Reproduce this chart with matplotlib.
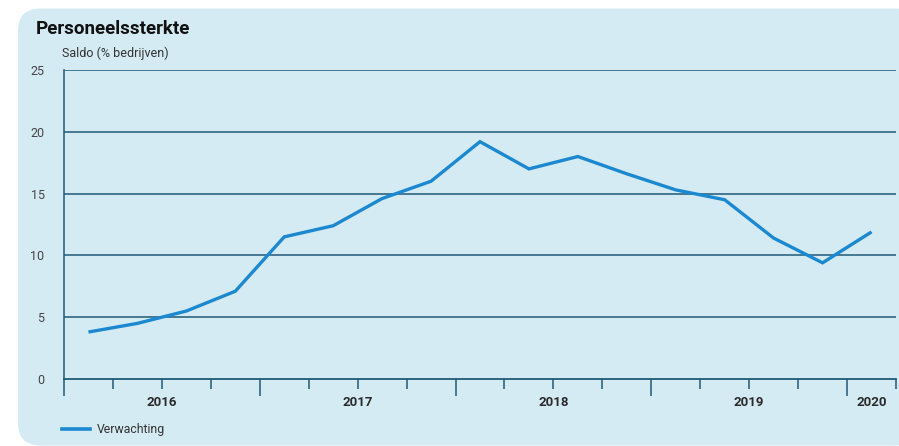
import matplotlib
matplotlib.use('Agg')
import matplotlib.pyplot as plt
import matplotlib.transforms as mtransforms
from matplotlib.patches import FancyBboxPatch
import numpy as np

plt.rcParams['font.family'] = ['Roboto', 'DejaVu Sans']

# Quarterly data, 2016 Q1 .. 2020 Q1
quarters = ['2016Q1', '2016Q2', '2016Q3', '2016Q4',
            '2017Q1', '2017Q2', '2017Q3', '2017Q4',
            '2018Q1', '2018Q2', '2018Q3', '2018Q4',
            '2019Q1', '2019Q2', '2019Q3', '2019Q4',
            '2020Q1']
verwachting = [3.8, 4.5, 5.5, 7.1,
               11.5, 12.4, 14.6, 16.0,
               19.2, 17.0, 18.0, 16.6,
               15.3, 14.5, 11.4, 9.4,
               11.9]
years = ['2016', '2017', '2018', '2019', '2020']
yticks = [0, 5, 10, 15, 20, 25]

BG = '#d5ebf4'
GRID = '#1f5a78'
LINE = '#1b88cf'

fig = plt.figure(figsize=(8.99, 4.46), dpi=100)
fig.patch.set_facecolor('white')

# rounded background panel (behind everything)
panel = FancyBboxPatch((18 / 899, 0.5 / 446), 900 / 899, 437 / 446,
                       boxstyle='round,pad=0,rounding_size=0.025',
                       transform=fig.transFigure, facecolor=BG, edgecolor='none',
                       zorder=-10, mutation_aspect=899 / 446)
fig.patches.append(panel)

ax = fig.add_axes([64 / 899, 1 - 379 / 446, (896 - 64) / 899, (379 - 70) / 446])
ax.set_facecolor('none')
ax.set_zorder(1)

x = np.arange(len(quarters)) + 0.5
ax.plot(x, verwachting, color=LINE, lw=2.4, solid_joinstyle='miter',
        solid_capstyle='butt', zorder=3)

ax.set_xlim(0, len(quarters))
ax.set_ylim(0, 25)

# y axis
ax.set_yticks(yticks)
ax.set_yticklabels([str(v) for v in yticks])
ax.tick_params(axis='y', length=0, pad=14, labelsize=9, labelcolor='#444444')
for v in yticks[1:]:
    ax.axhline(v, color=GRID, lw=1.1, zorder=1)

# x axis: quarter boundaries, long ticks at year starts
bounds = np.arange(len(quarters) + 1)
major = [b for b in bounds if b % 4 == 0]
minor = [b for b in bounds if b % 4 != 0]
ax.set_xticks(major)
ax.set_xticks(minor, minor=True)
ax.set_xticklabels([])
ax.tick_params(axis='x', which='major', length=12.5, width=1.1, color=GRID)
ax.tick_params(axis='x', which='minor', length=7.5, width=1.1, color=GRID)

trans = mtransforms.blended_transform_factory(ax.transData, ax.transAxes)
for i, yr in enumerate(years):
    start = i * 4
    end = min(start + 4, len(quarters))
    ax.text((start + end) / 2, -0.075, yr, transform=trans, ha='center', va='center',
            fontsize=9.5, fontweight='bold', color='#2a2a2a')

for side in ['top', 'right']:
    ax.spines[side].set_visible(False)
ax.spines['left'].set_color(GRID)
ax.spines['left'].set_linewidth(1.1)
ax.spines['bottom'].set_color(GRID)
ax.spines['bottom'].set_linewidth(1.3)

# titles
fig.text(36 / 899, 1 - 29 / 446, 'Personeelssterkte', fontsize=13.5, fontweight='bold',
         color='#111111', va='center', ha='left')
fig.text(62 / 899, 1 - 53 / 446, 'Saldo (% bedrijven)', fontsize=9,
         color='#333333', va='center', ha='left')

# legend
fig.add_artist(plt.Line2D([62 / 899, 90 / 899], [1 - 429 / 446, 1 - 429 / 446],
                          transform=fig.transFigure, color=LINE, lw=2.6))
fig.text(97 / 899, 1 - 429 / 446, 'Verwachting', fontsize=8.8, color='#333333',
         va='center', ha='left')

fig.savefig('out.png', dpi=100)
